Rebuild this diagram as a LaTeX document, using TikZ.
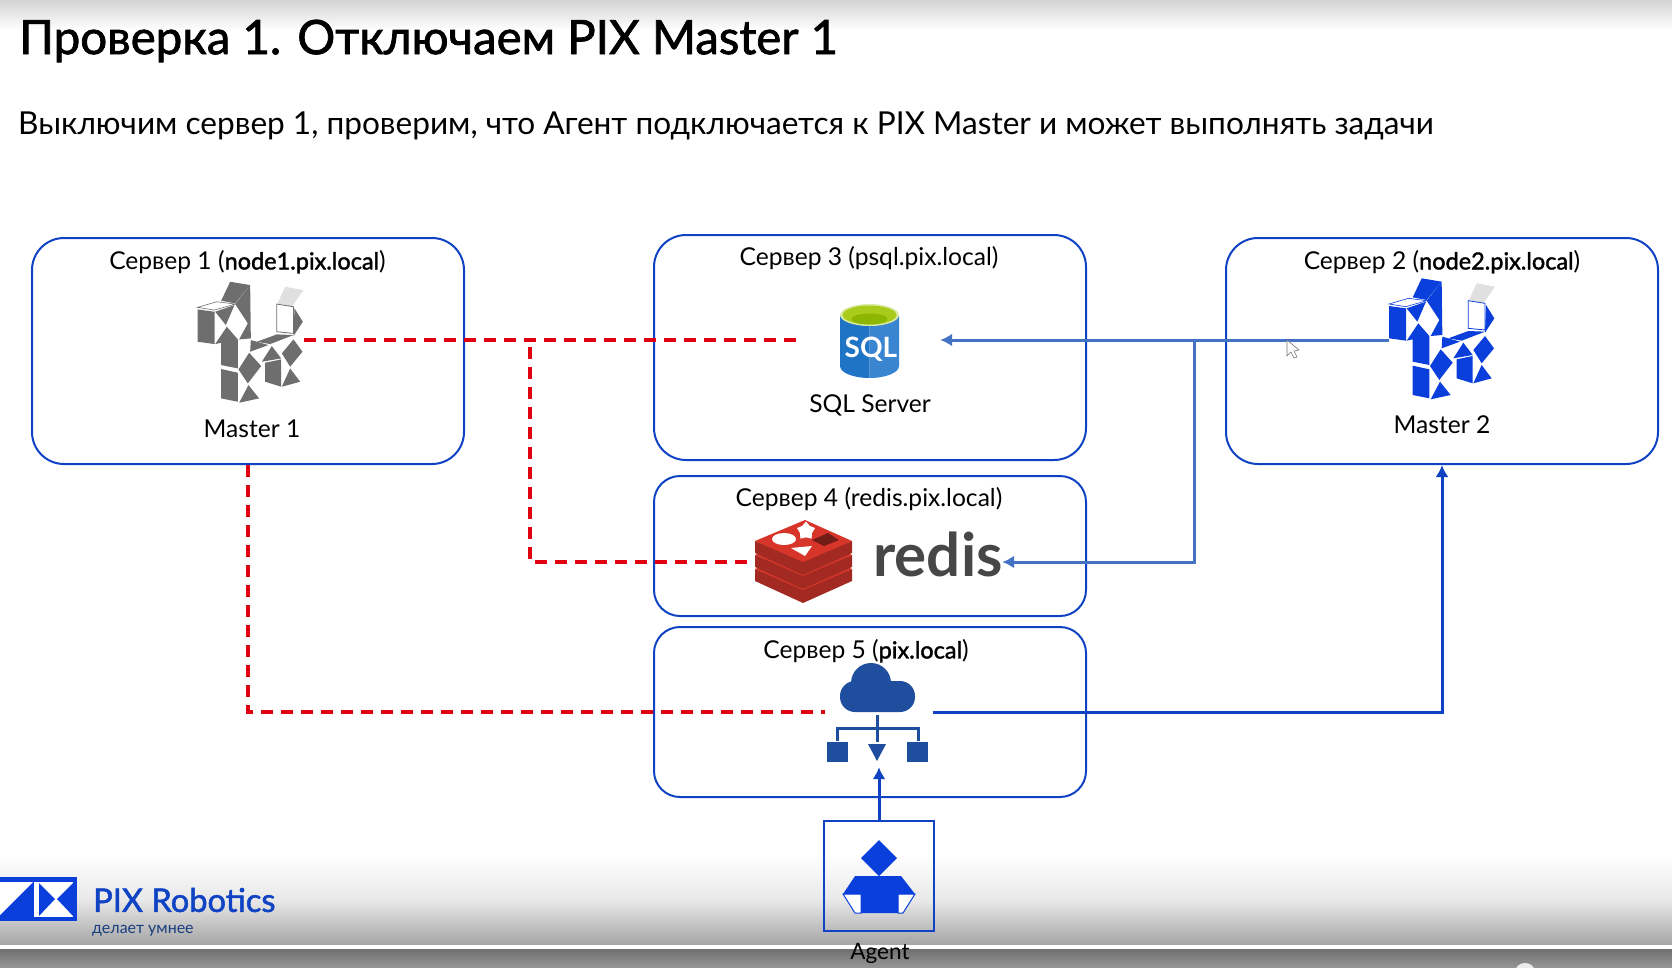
\documentclass[tikz,border=0pt]{standalone}
\usepackage{fontspec}
\setmainfont{Lato}
\newfontfamily\medfont[FakeBold=1.6]{Lato}
\usetikzlibrary{shapes.geometric,arrows.meta}
\definecolor{boxblue}{HTML}{0F43C4}
\definecolor{steelline}{HTML}{4472C4}
\definecolor{dashred}{HTML}{E00012}
\definecolor{dogblue}{HTML}{0A3FDC}
\definecolor{doggrey}{HTML}{6E6E6E}
\definecolor{cloudblue}{HTML}{1F4E9E}
\definecolor{redisred}{HTML}{D8352A}
\definecolor{redisdark}{HTML}{A32A22}
\definecolor{sqlblue}{HTML}{1F74C6}
\definecolor{sqllight}{HTML}{3A85D2}
\definecolor{sqlgreen}{HTML}{A8CB1C}
\definecolor{sqlolive}{HTML}{8DB600}
\newcommand{\px}[1]{\fontsize{#1}{#1}\selectfont}
\newcommand{\hostname}[1]{{\medfont\px{23.5}#1}}
\tikzset{
  serverbox/.style={draw=boxblue,line width=2pt,rounded corners=32pt,minimum width=#1,inner sep=0pt},
  boxlabel/.style={inner sep=0pt,font=\px{24.6}},
  holder/.style={inner sep=0pt,minimum height=#1},
  reddash/.style={draw=dashred,line width=3.3pt,dash pattern=on 12pt off 8pt},
  steelarrow/.style={draw=steelline,line width=3pt},
  bluearrow/.style={draw=boxblue,line width=3pt},
  bigtip/.style={-{Latex[length=12pt,width=13pt]}},
  pics/snakedog/.style={code={
    \begin{scope}[x=.3333pt,y=-.3333pt]
      \fill[#1] (125,25) -- (185,35) -- (140,90) -- (98,82) -- cycle;
      \fill[#1] (140,92) -- (185,35) -- (187,195) -- (152,198) -- (178,150) -- cycle;
      \draw[#1,fill=white,line width=.6pt] (27,102) -- (85,85) -- (140,92) -- (78,110) -- cycle;
      \fill[#1] (27,108) -- (78,115) -- (78,212) -- (27,205) -- cycle;
      \fill[#1] (80,115) -- (138,95) -- (112,155) -- cycle;
      \fill[#1] (80,212) -- (115,160) -- (148,198) -- cycle;
      \fill[#1] (98,200) -- (148,198) -- (148,285) -- (98,275) -- cycle;
      \fill[#1] (182,238) -- (218,278) -- (178,330) -- (150,288) -- cycle;
      \fill[#1] (187,200) -- (240,215) -- (185,235) -- cycle;
      \fill[#1] (205,205) -- (265,183) -- (315,185) -- (245,212) -- cycle;
      \fill[#1] (98,287) -- (148,298) -- (148,385) -- (98,375) -- cycle;
      \fill[#1] (152,388) -- (180,335) -- (212,375) -- cycle;
      \fill[black!12] (290,40) -- (345,50) -- (310,100) -- (267,90) -- cycle;
      \draw[#1,fill=white,line width=.8pt] (265,92) -- (315,100) -- (315,180) -- (265,175) -- cycle;
      \fill[#1] (318,105) -- (343,145) -- (315,188) -- cycle;
      \fill[#1] (250,218) -- (220,265) -- (278,255) -- cycle;
      \fill[#1] (230,268) -- (278,258) -- (278,340) -- (230,325) -- cycle;
      \fill[#1] (315,198) -- (342,235) -- (305,280) -- (280,240) -- cycle;
      \fill[#1] (305,285) -- (335,325) -- (280,340) -- cycle;
    \end{scope}
  }}
}
\begin{document}
\begin{tikzpicture}[x=1pt,y=-1pt]
\useasboundingbox (0,0) rectangle (1672,967);
\clip (0,0) rectangle (1672,967);
% slide background
\shade[top color=black!17,bottom color=white] (0,0) rectangle (1672,30);
\shade[top color=white,bottom color=black!9] (0,855) rectangle (1672,900);
\shade[top color=black!9,bottom color=black!35] (0,900) rectangle (1672,944);
\shade[top color=black!56,bottom color=black!42] (0,949) rectangle (1672,967);
\foreach \cx in {-5,33,72,110} \draw[black!42,line width=.7pt] (\cx,974) circle[radius=10];
\fill[white!92!black] (1525,972) ellipse[x radius=10,y radius=9];

\node [anchor=west,inner sep=0pt,font=\medfont\px{47.4}] (title) at (19,41) {Проверка 1. Отключаем PIX Master 1};
\node [anchor=west,inner sep=0pt,font=\px{31.6}] (subtitle) at (18,126) {Выключим сервер 1, проверим, что Агент подключается к PIX Master и может выполнять задачи};

% servers
\node [serverbox=432pt,minimum height=226pt] (serverone) at (248,351) {};
\node [serverbox=432pt,minimum height=225pt] (serverthree) at (870,347.5) {};
\node [serverbox=432pt,minimum height=226pt] (servertwo) at (1442,351) {};
\node [serverbox=432pt,minimum height=140pt,rounded corners=26pt] (serverfour) at (870,546) {};
\node [serverbox=432pt,minimum height=170pt,rounded corners=26pt] (serverfive) at (870,712) {};
\node [boxlabel] (labelone) at (247.5,262) {Сервер 1 (\hostname{node1.pix.local})};
\node [boxlabel] (labelthree) at (869,258) {Сервер 3 (psql.pix.local)};
\node [boxlabel] (labeltwo) at (1442,262) {Сервер 2 (\hostname{node2.pix.local})};
\node [boxlabel] (labelfour) at (869,499) {Сервер 4 (redis.pix.local)};
\node [boxlabel] (labelfive) at (866,651) {Сервер 5 (\hostname{pix.local})};
\node [boxlabel] (masteronetext) at (252,429) {Master 1};
\node [boxlabel] (mastertwotext) at (1442,425) {Master 2};
\node [boxlabel] (sqltext) at (870,405) {SQL Server};

% icons
\pic at (188.5,273.4) {snakedog=doggrey};
\pic at (1380,270) {snakedog=dogblue};

\fill[sqlblue] (840,316) -- (840,366) arc[start angle=180,end angle=90,x radius=29.5,y radius=12] -- (869.5,316) -- cycle;
\fill[sqllight] (899,316) -- (899,366) arc[start angle=0,end angle=90,x radius=29.5,y radius=12] -- (869.5,316) -- cycle;
\fill[white!60!sqlgreen] (869.5,315) ellipse[x radius=29.5,y radius=11];
\fill[sqlgreen] (869.5,315) ellipse[x radius=27,y radius=9.5];
\fill[sqlolive] (869.5,319) ellipse[x radius=18,y radius=5.5];
\node [inner sep=0pt,text=white,font=\bfseries\px{28}] (sqlword) at (871,349) {SQL};

\foreach \o in {28,14,0} {
  \fill[redisdark] (755,541+\o) -- (755,553+\o) -- (803,575+\o) -- (852,553+\o) -- (852,541+\o) -- (803,560+\o) -- cycle;
  \fill[redisred] (755,541+\o) -- (805,520+\o) -- (852,541+\o) -- (803,562+\o) -- cycle;
}
\fill[white] (784,539) ellipse[x radius=12,y radius=6];
\node [star,star points=5,fill=white,inner sep=0pt,minimum size=19pt] (redisstar) at (806,531) {};
\fill[white] (791,548) -- (812,546) -- (805,556) -- cycle;
\fill[redisdark!70!black] (812,540) -- (828,533) -- (839,540) -- (824,546) -- cycle;
\node [inner sep=0pt,text=black!72,font=\bfseries\px{60}] (rediswork) at (938,554) {redis};

\fill[cloudblue] (871,683) circle[radius=20];
\fill[cloudblue,rounded corners=15pt] (840,681) rectangle (915,712);
\draw[cloudblue,line width=3pt] (877,715) -- (877,742) (837,741) -- (837,728) -- (918,728) -- (918,741);
\fill[cloudblue] (827,742) rectangle (848,762);
\fill[cloudblue] (907,742) rectangle (928,762);
\fill[cloudblue] (868,744) -- (886,744) -- (877,761) -- cycle;

% agent
\node [draw=boxblue,line width=2pt,minimum width=110pt,minimum height=110pt,inner sep=0pt] (agent) at (879,876) {};
\fill[dogblue] (879,840) -- (897,858) -- (879,876) -- (861,858) -- cycle;
\draw[dogblue,fill=white,line width=1pt] (843,894) -- (861,894) -- (861,913) -- (855,913) -- cycle;
\draw[dogblue,fill=white,line width=1pt] (915,894) -- (898,894) -- (898,913) -- (903,913) -- cycle;
\fill[dogblue] (855,876) -- (901,876) -- (915,894) -- (898,894) -- (898,913) -- (861,913) -- (861,894) -- (843,894) -- cycle;
\node [inner sep=0pt,font=\px{22.5}] (agenttext) at (880,953) {Agent};

% logo
\fill[dogblue] (0,877) rectangle (77,921);
\fill[white] (0,882) -- (33,882) -- (0,915) -- cycle;
\fill[white] (34,882) rectangle (73,917);
\fill[dogblue] (39,883) -- (55,899) -- (39,916) -- cycle;
\fill[dogblue] (73,883) -- (57,899) -- (73,916) -- cycle;
\node [anchor=west,inner sep=0pt,text=boxblue,font=\medfont\px{32.6}] (logotext) at (93,900) {PIX Robotics};
\node [anchor=west,inner sep=0pt,text=cloudblue!80!black,font=\px{16}] (logosub) at (92,931) {делает умнее};

% connector ends
\node [holder=10pt,minimum width=107pt] (dogone) at (250.5,340) {};
\node [holder=10pt,minimum width=107pt] (dogtwo) at (1442.5,340) {};
\node [holder=10pt,minimum width=140pt] (sqlicon) at (870,340) {};
\node [holder=10pt,minimum width=255pt] (redisicon) at (874.5,562) {};
\node [holder=110pt,minimum width=107pt] (cloudicon) at (879,712) {};
\coordinate (redjoin) at (530,340);
\coordinate (steeljoin) at (1194,340);

\draw[reddash] (dogone.east) -- (sqlicon.west);
\draw[reddash] (redisicon.west) -| (redjoin);
\draw[reddash] (serverone.south) |- (cloudicon.west);
\draw[steelarrow,bigtip] (dogtwo.west) -- (sqlicon.east);
\draw[steelarrow,bigtip] (steeljoin) |- (redisicon.east);
\draw[bluearrow,bigtip] (cloudicon.east) -| (servertwo.south);
\draw[bluearrow,bigtip] (agent.north) -- (cloudicon.south);

% mouse pointer
\draw[black!55,fill=white,line width=.6pt] (1287,340) -- (1287,356) -- (1291,352) -- (1294,358) -- (1297,357) -- (1294,351) -- (1299,350) -- cycle;
\end{tikzpicture}
\end{document}
